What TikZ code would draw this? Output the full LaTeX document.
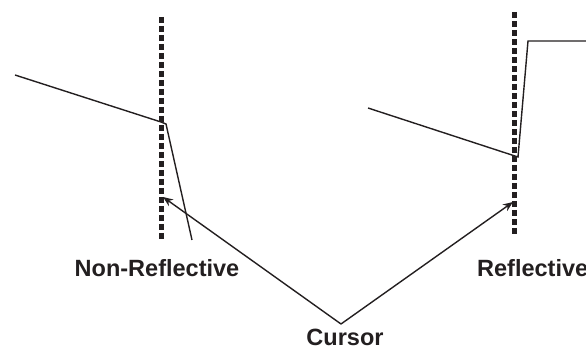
\documentclass[tikz,border=0pt]{standalone}
\usepackage{fontspec}
\setmainfont{Liberation Sans}
\usetikzlibrary{arrows.meta}
\begin{document}
\begin{tikzpicture}[x=1pt,y=-1pt]
    \definecolor{lineColour}{HTML}{231F20}
    \definecolor{textColour}{HTML}{231F20}

    \def\dashWidth{5pt}

    % Picture frame
    \clip (0,0) rectangle (586,347);

    % Draw cursor markers
    \draw[lineColour, line width=\dashWidth, dash pattern=on 6pt off 3pt] (161,17) -- (161,240);
    \draw[lineColour, line width=\dashWidth, dash pattern=on 6pt off 3pt] (514,12) -- (514,234);

    % Trace A: non-reflective end
    \coordinate (A1) at (15,75);
    \coordinate (A2) at (161,122);
    \coordinate (A3) at (166,124);
    \coordinate (A4) at (192,240);
    \draw[lineColour, line width=1.4pt, line join=miter] (A1) -- (A2) -- (A3) -- (A4);

    % Trace B: reflective end
    \coordinate (B1) at (368,108);
    \coordinate (B2) at (518,157);
    \coordinate (B3) at (528,41);
    \coordinate (B4) at (590,41);
    \draw[lineColour, line width=1.4pt, line join=miter] (B1) -- (B2) -- (B3) -- (B4);

    % Labels
    \node[textColour, font=\bfseries\fontsize{23.5}{28}\selectfont, inner sep=0pt] (nonRefl) at (157,268) {Non-Reflective};
    \node[textColour, font=\bfseries\fontsize{23.5}{28}\selectfont, inner sep=0pt, anchor=west] (refl) at (477,268) {Reflective};
    \node[textColour, font=\bfseries\fontsize{23.5}{28}\selectfont, inner sep=0pt, anchor=base] (cursor) at (345,345) {Cursor};

    % Cursor pointers
    \coordinate (C0) at (341,324);
    \coordinate (C1) at (163,197);
    \coordinate (C2) at (513,202);
    \draw[lineColour, line width=1.4pt, -{Stealth[length=10pt,width=8pt]}] (C0) -- (C1);
    \draw[lineColour, line width=1.4pt, -{Stealth[length=10pt,width=8pt]}] (C0) -- (C2);

\end{tikzpicture}
\end{document}
